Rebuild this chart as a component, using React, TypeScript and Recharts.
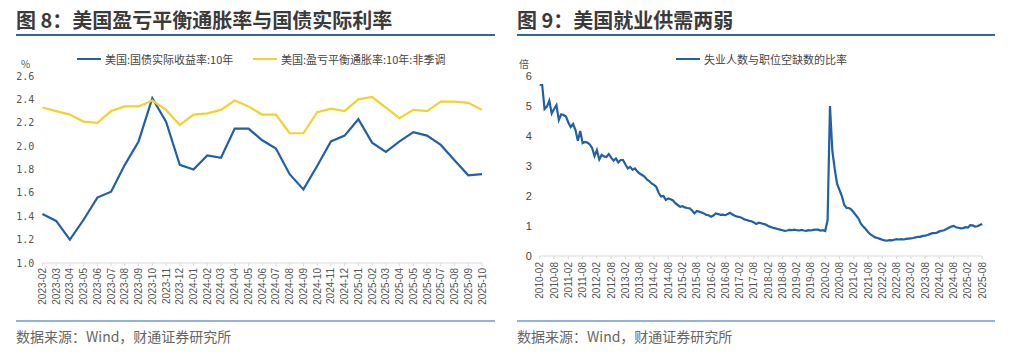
import { LineChart, Line, XAxis, YAxis } from 'recharts'

// 图8：月度，2023-02 ~ 2025-10
const months8 = [
    '2023-02', '2023-03', '2023-04', '2023-05', '2023-06', '2023-07', '2023-08', '2023-09', '2023-10', '2023-11', '2023-12',
    '2024-01', '2024-02', '2024-03', '2024-04', '2024-05', '2024-06', '2024-07', '2024-08', '2024-09', '2024-10', '2024-11', '2024-12',
    '2025-01', '2025-02', '2025-03', '2025-04', '2025-05', '2025-06', '2025-07', '2025-08', '2025-09', '2025-10',
]
const realYield = [
    1.42, 1.36, 1.2, 1.37, 1.56, 1.61, 1.84, 2.04, 2.41, 2.21, 1.84,
    1.8, 1.92, 1.9, 2.15, 2.15, 2.05, 1.98, 1.76, 1.63, 1.83, 2.04, 2.09,
    2.23, 2.03, 1.95, 2.04, 2.12, 2.09, 2.01, 1.88, 1.75, 1.76,
]
const breakeven = [
    2.33, 2.3, 2.27, 2.21, 2.2, 2.3, 2.34, 2.34, 2.39, 2.31, 2.18,
    2.27, 2.28, 2.31, 2.39, 2.34, 2.27, 2.27, 2.11, 2.11, 2.29, 2.32, 2.3,
    2.4, 2.42, 2.33, 2.24, 2.31, 2.3, 2.38, 2.38, 2.37, 2.31,
]
const ticks8 = [1.0, 1.2, 1.4, 1.6, 1.8, 2.0, 2.2, 2.4, 2.6]

// 图9：失业人数与职位空缺数的比率，2010-02 ~ 2025-08
const ratio2010 = [5.7, 5.7, 4.9, 4.98, 5.18, 4.75, 4.9, 5.03, 4.53, 4.72, 4.7]
const ratio2011 = [4.65, 4.45, 4.3, 4.4, 4.2, 3.84, 4.17, 3.76, 3.8, 3.78, 3.72, 3.6]
const ratio2012 = [3.33, 3.53, 3.22, 3.37, 3.32, 3.3, 3.4, 3.28, 3.18, 3.25, 3.12, 3.2]
const ratio2013 = [3.2, 3.05, 2.92, 2.97, 2.87, 2.92, 2.82, 2.75, 2.7, 2.65, 2.55, 2.5]
const ratio2014 = [2.42, 2.37, 2.3, 2.1, 1.98, 2.0, 1.87, 1.92, 1.89, 1.85, 1.76, 1.7]
const ratio2015 = [1.64, 1.66, 1.62, 1.6, 1.59, 1.52, 1.42, 1.5, 1.48, 1.45, 1.42, 1.37]
const ratio2016 = [1.36, 1.31, 1.35, 1.42, 1.4, 1.37, 1.38, 1.36, 1.4, 1.44, 1.38, 1.34]
const ratio2017 = [1.31, 1.3, 1.27, 1.22, 1.2, 1.17, 1.16, 1.12, 1.07, 1.11, 1.09, 1.07]
const ratio2018 = [1.05, 1.0, 0.97, 0.94, 0.92, 0.9, 0.88, 0.86, 0.84, 0.85, 0.87, 0.86]
const ratio2019 = [0.88, 0.86, 0.85, 0.87, 0.85, 0.84, 0.86, 0.85, 0.87, 0.88, 0.88, 0.85]
const ratio2020 = [0.86, 0.83, 1.2, 5.0, 3.5, 2.9, 2.4, 2.2, 2.0, 1.7, 1.6, 1.6]
const ratio2021 = [1.55, 1.45, 1.35, 1.25, 1.08, 0.98, 0.9, 0.8, 0.72, 0.67, 0.62, 0.6]
const ratio2022 = [0.57, 0.54, 0.52, 0.51, 0.53, 0.52, 0.54, 0.56, 0.55, 0.56, 0.55, 0.57]
const ratio2023 = [0.58, 0.59, 0.6, 0.62, 0.64, 0.64, 0.67, 0.68, 0.7, 0.73, 0.76, 0.76]
const ratio2024 = [0.78, 0.82, 0.84, 0.86, 0.9, 0.94, 0.98, 1.0, 0.96, 0.94, 0.92, 0.93]
const ratio2025 = [0.96, 0.95, 1.03, 1.02, 0.98, 0.99, 1.03, 1.07]
const ratioByYear: [number, number, number[]][] = [
    [2010, 2, ratio2010], [2011, 1, ratio2011], [2012, 1, ratio2012], [2013, 1, ratio2013],
    [2014, 1, ratio2014], [2015, 1, ratio2015], [2016, 1, ratio2016], [2017, 1, ratio2017],
    [2018, 1, ratio2018], [2019, 1, ratio2019], [2020, 1, ratio2020], [2021, 1, ratio2021],
    [2022, 1, ratio2022], [2023, 1, ratio2023], [2024, 1, ratio2024], [2025, 1, ratio2025],
]
const ticks9 = [0, 1, 2, 3, 4, 5, 6]

const data8 = months8.map((m, i) => ({ month: m, real: realYield[i], be: breakeven[i] }))
const data9 = ratioByYear.flatMap(([y, start, vals]) =>
    vals.map((v, i) => ({ month: `${y}-${String(start + i).padStart(2, '0')}`, ratio: v })),
)

const BLUE = '#2160a8'
const YELLOW = '#f3d22e'
const TITLE_BLUE = '#2b6a9a'
const cjk = '"Noto Sans CJK SC", "Noto Sans", sans-serif'

const RotTick = (props: any) => {
    const { x, y, payload } = props
    return (
        <g transform={`translate(${x},${y})`}>
            <text
                x={0}
                y={0}
                dy="0.35em"
                textAnchor="end"
                transform="rotate(-90)"
                fontSize={10}
                fill="#555"
                fontFamily="Liberation Sans, Arial, sans-serif"
            >
                {payload.value}
            </text>
        </g>
    )
}

const LegendItem = ({ color, label, left }: { color: string; label: string; left: number }) => (
    <div style={{ position: 'absolute', left, top: 51, display: 'flex', alignItems: 'center', fontFamily: cjk, fontSize: 11, color: '#444' }}>
        <span style={{ display: 'inline-block', width: 24, height: 2.5, background: color, marginRight: 4 }} />
        {label}
    </div>
)

const Panel = ({ left, width, title }: { left: number; width: number; title: string }) => (
    <>
        <div style={{ position: 'absolute', left, top: 6, fontFamily: cjk, fontWeight: 700, fontSize: 20, color: '#3b3b3b', lineHeight: '28px' }}>
            {title}
        </div>
        <div style={{ position: 'absolute', left, top: 34, width, height: 2, background: TITLE_BLUE }} />
        <div style={{ position: 'absolute', left, top: 320, width, height: 2, background: '#8fb3d9' }} />
        <div style={{ position: 'absolute', left, top: 326, fontFamily: cjk, fontSize: 14, color: '#666', lineHeight: '20px' }}>
            数据来源：Wind，财通证券研究所
        </div>
    </>
)

export default function App() {
    return (
        <div style={{ position: 'absolute', left: 0, top: 0, width: 1024, height: 359, background: '#fff', overflow: 'hidden' }}>
            <Panel left={16} width={479} title="图 8：美国盈亏平衡通胀率与国债实际利率" />
            <Panel left={517} width={478} title="图 9：美国就业供需两弱" />

            <div style={{ position: 'absolute', left: 0, top: 0 }}>
                <LineChart width={512} height={320} data={data8} margin={{ top: 76, right: 30, bottom: 0, left: 0 }}>
                    <XAxis
                        dataKey="month"
                        interval={0}
                        height={57}
                        tick={<RotTick />}
                        tickSize={3}
                        tickMargin={2}
                        axisLine={{ stroke: '#d9d9d9' }}
                        tickLine={{ stroke: '#d9d9d9' }}
                    />
                    <YAxis
                        domain={[1.0, 2.6]}
                        ticks={ticks8}
                        width={42.4}
                        axisLine={false}
                        tickLine={false}
                        tickFormatter={(v: number) => v.toFixed(1)}
                        tick={{ fontSize: 10, fill: '#555', fontFamily: '"DejaVu Sans Mono", monospace' }}
                    />
                    <Line dataKey="real" stroke={BLUE} strokeWidth={2.2} dot={false} isAnimationActive={false} />
                    <Line dataKey="be" stroke={YELLOW} strokeWidth={2.2} dot={false} isAnimationActive={false} />
                </LineChart>
            </div>
            <div style={{ position: 'absolute', left: 21, top: 56, fontSize: 10, color: '#555', fontFamily: cjk }}>%</div>
            <LegendItem color={BLUE} label="美国:国债实际收益率:10年" left={77} />
            <LegendItem color={YELLOW} label="美国:盈亏平衡通胀率:10年:非季调" left={253} />

            <div style={{ position: 'absolute', left: 512, top: 0 }}>
                <LineChart width={512} height={320} data={data9} margin={{ top: 76, right: 41.8, bottom: 0, left: 0 }}>
                    <XAxis
                        dataKey="month"
                        interval={5}
                        height={64}
                        tick={<RotTick />}
                        tickSize={3}
                        tickMargin={3}
                        axisLine={{ stroke: '#d9d9d9' }}
                        tickLine={{ stroke: '#d9d9d9' }}
                    />
                    <YAxis
                        domain={[0, 6]}
                        ticks={ticks9}
                        width={27.8}
                        axisLine={false}
                        tickLine={false}
                        tick={{ fontSize: 11, fill: '#444', fontFamily: 'Liberation Sans, Arial, sans-serif' }}
                    />
                    <Line dataKey="ratio" stroke={BLUE} strokeWidth={2.2} dot={false} isAnimationActive={false} />
                </LineChart>
            </div>
            <div style={{ position: 'absolute', left: 519, top: 56, fontSize: 10, color: '#555', fontFamily: cjk }}>倍</div>
            <LegendItem color={BLUE} label="失业人数与职位空缺数的比率" left={676} />
        </div>
    )
}
